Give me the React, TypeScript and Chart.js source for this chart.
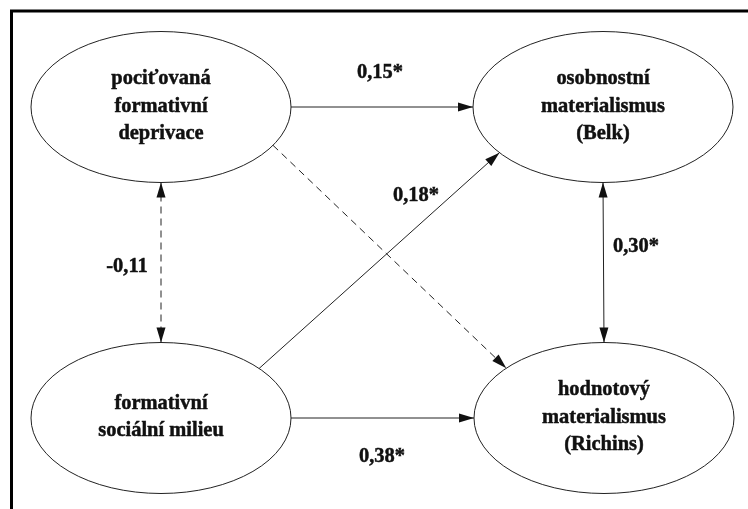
import React, { useEffect, useRef } from "react";
import { Chart, registerables } from "chart.js";

Chart.register(...registerables);

// ---- data ----
const nodeLabels: string[][] = [
  ["pociťovaná", "formativní", "deprivace"],
  ["osobnostní", "materialismus", "(Belk)"],
  ["formativní", "sociální milieu"],
  ["hodnotový", "materialismus", "(Richins)"],
];
const nodeX = [161, 603, 161, 604];
const nodeY = [107, 107, 418, 418];

const edgeFrom = [0, 2, 0, 0, 1, 2];
const edgeTo = [1, 1, 3, 2, 3, 3];
const edgeCoef: (number | null)[] = [0.15, 0.18, null, -0.11, 0.3, 0.38];
const edgeSig = [true, true, false, false, true, true];
const edgeBoth = [false, false, false, true, true, false];

// ---- layout (angles on ellipses, label anchors) ----
const NODE_RX = 130;
const NODE_RY = 75.5;
const edgeFromAngle = [0, -41, 30.5, 90, 90, 0];
const edgeToAngle = [180, 142.8, -138.7, -90, -90, 180];
const labelX = [380, 416, 0, 127, 613, 382];
const labelY = [72, 195, 0, 266, 246, 456];
const labelAlign: CanvasTextAlign[] = ["center", "center", "center", "center", "left", "center"];

const FONT = "bold 22px 'Liberation Serif', 'Times New Roman', serif";
const SX = 0.93;

function fmt(v: number, sig: boolean) {
  return v.toFixed(2).replace(".", ",") + (sig ? "*" : "");
}

function drawText(ctx: CanvasRenderingContext2D, s: string, x: number, y: number, align: CanvasTextAlign) {
  ctx.save();
  ctx.translate(x, y);
  ctx.scale(SX, 1);
  ctx.font = FONT;
  ctx.textAlign = align;
  ctx.textBaseline = "middle";
  ctx.fillStyle = "#111";
  ctx.strokeStyle = "#111";
  ctx.lineWidth = 0.5;
  ctx.fillText(s, 0, 0);
  ctx.strokeText(s, 0, 0);
  ctx.restore();
}

function arrowHead(ctx: CanvasRenderingContext2D, tx: number, ty: number, fx: number, fy: number) {
  const ang = Math.atan2(ty - fy, tx - fx);
  const L = 15, W = 4.5;
  ctx.save();
  ctx.setLineDash([]);
  ctx.beginPath();
  ctx.moveTo(tx, ty);
  ctx.lineTo(tx - L * Math.cos(ang) + W * Math.sin(ang), ty - L * Math.sin(ang) - W * Math.cos(ang));
  ctx.lineTo(tx - L * Math.cos(ang) - W * Math.sin(ang), ty - L * Math.sin(ang) + W * Math.cos(ang));
  ctx.closePath();
  ctx.fillStyle = "#111";
  ctx.fill();
  ctx.restore();
}

const diagramPlugin = {
  id: "diagram",
  beforeDraw(chart: any) {
    const ctx = chart.ctx;
    ctx.save();
    ctx.fillStyle = "#fff";
    ctx.fillRect(0, 0, chart.width, chart.height);
    ctx.restore();
  },
  afterDatasetsDraw(chart: any) {
    const ctx: CanvasRenderingContext2D = chart.ctx;
    const xs = chart.scales.x;
    const ys = chart.scales.y;
    const px = (v: number) => xs.getPixelForValue(v);
    const py = (v: number) => ys.getPixelForValue(v);
    const rx = Math.abs(px(NODE_RX) - px(0));
    const ry = Math.abs(py(NODE_RY) - py(0));
    const cx = nodeX.map(px);
    const cy = nodeY.map(py);

    ctx.save();
    // frame
    ctx.strokeStyle = "#000";
    ctx.lineWidth = 3;
    ctx.beginPath();
    ctx.moveTo(px(10), py(11));
    ctx.lineTo(px(748), py(11));
    ctx.moveTo(px(11.5), py(10));
    ctx.lineTo(px(11.5), py(509));
    ctx.stroke();

    // ellipses
    ctx.lineWidth = 1;
    ctx.strokeStyle = "#222";
    for (let i = 0; i < nodeLabels.length; i++) {
      ctx.beginPath();
      ctx.ellipse(cx[i], cy[i], rx, ry, 0, 0, Math.PI * 2);
      ctx.stroke();
      const lines = nodeLabels[i];
      const lh = 27.5;
      const start = cy[i] - ((lines.length - 1) * lh) / 2 - 1;
      lines.forEach((l, k) => drawText(ctx, l, cx[i], start + k * lh, "center"));
    }

    // edges
    for (let e = 0; e < edgeFrom.length; e++) {
      const a = edgeFrom[e], b = edgeTo[e];
      const ta = (edgeFromAngle[e] * Math.PI) / 180;
      const tb = (edgeToAngle[e] * Math.PI) / 180;
      const x1 = cx[a] + rx * Math.cos(ta), y1 = cy[a] + ry * Math.sin(ta);
      const x2 = cx[b] + rx * Math.cos(tb), y2 = cy[b] + ry * Math.sin(tb);
      ctx.save();
      ctx.strokeStyle = "#222";
      ctx.lineWidth = 1;
      ctx.setLineDash(edgeSig[e] ? [] : [7, 5]);
      ctx.beginPath();
      ctx.moveTo(x1, y1);
      ctx.lineTo(x2, y2);
      ctx.stroke();
      ctx.restore();
      arrowHead(ctx, x2, y2, x1, y1);
      if (edgeBoth[e]) arrowHead(ctx, x1, y1, x2, y2);
      const c = edgeCoef[e];
      if (c !== null) drawText(ctx, fmt(c, edgeSig[e]), px(labelX[e]), py(labelY[e]), labelAlign[e]);
    }
    ctx.restore();
  },
};

export default function App() {
  const ref = useRef<HTMLCanvasElement>(null);
  useEffect(() => {
    if (!ref.current) return;
    const chart = new Chart(ref.current, {
      type: "scatter",
      data: {
        datasets: [
          {
            data: nodeX.map((x, i) => ({ x, y: nodeY[i] })),
            pointRadius: 0,
            showLine: false,
          },
        ],
      },
      options: {
        responsive: false,
        animation: false,
        events: [],
        layout: { padding: 0 },
        plugins: { legend: { display: false }, tooltip: { enabled: false } },
        scales: {
          x: { type: "linear", min: 0, max: 748, display: false },
          y: { type: "linear", min: 0, max: 509, reverse: true, display: false },
        },
      },
      plugins: [diagramPlugin],
    });
    return () => chart.destroy();
  }, []);
  return (
    <div style={{ position: "fixed", left: 0, top: 0, width: 748, height: 509, background: "#fff" }}>
      <canvas ref={ref} width={748} height={509} style={{ display: "block", width: 748, height: 509 }} />
    </div>
  );
}
